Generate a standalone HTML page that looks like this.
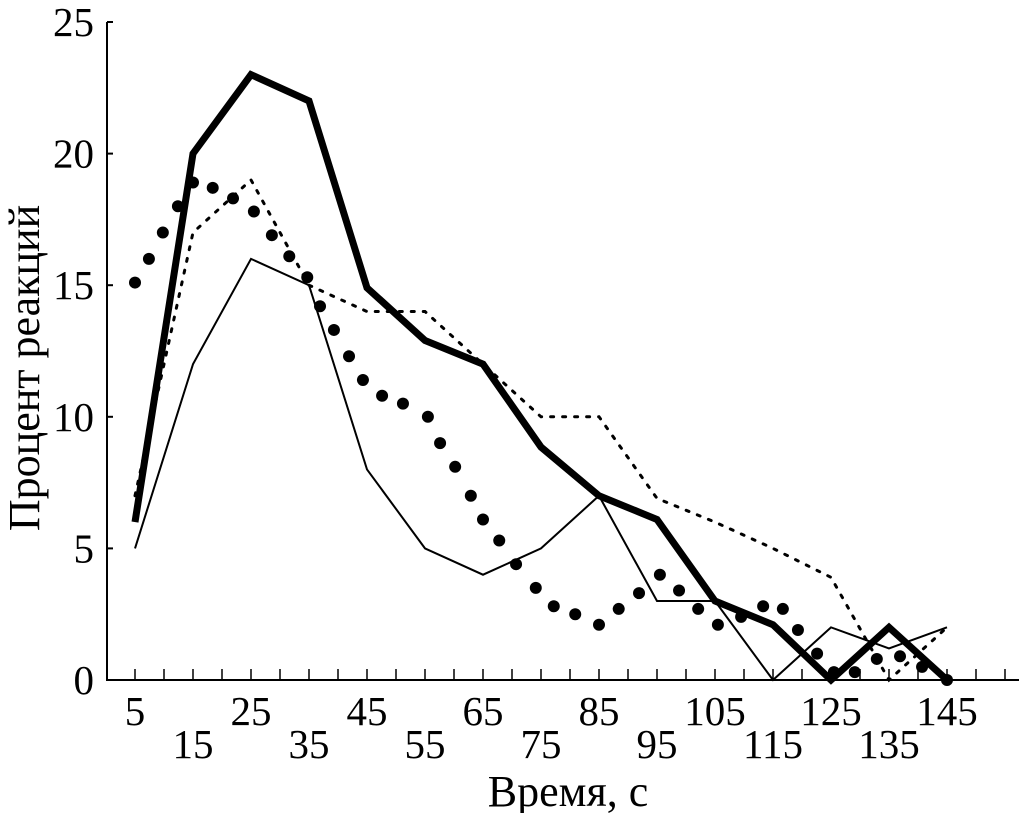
<!DOCTYPE html>
<html><head><meta charset="utf-8"><style>
html,body{margin:0;padding:0;background:#fff;}
svg{display:block;}
text{font-family:"Liberation Serif",serif;fill:#000;}
</style></head><body>
<svg id="chart" width="1019" height="813" viewBox="0 0 1019 813" xmlns="http://www.w3.org/2000/svg">
<g id="axes"></g>
<g id="series"></g>
<text x="568" y="806" font-size="44" text-anchor="middle">Время, с</text>
<text transform="translate(39,368) rotate(-90)" font-size="44" text-anchor="middle">Процент реакций</text>
</svg>
<script>
const categories = [5,15,25,35,45,55,65,75,85,95,105,115,125,135,145];
const thickValues = [6,20,23,22,14.9,12.9,12,8.85,7,6.1,3,2.1,0,2,0];
const thinValues = [5,12,16,15,8,5,4,5,7,3,3,0,2,1.2,2];
const dashValues = [7,17,19,15,14,14,12,10,10,6.9,6,5,3.9,0,2];
const dotTimes = [5,7.4,9.8,12.4,15,18.4,21.9,25.5,28.6,31.6,34.7,36.9,39.3,41.9,44.3,47.6,51.2,55.5,57.6,60.2,62.9,65,67.8,70.7,74.1,77.2,80.9,85,88.4,91.9,95.5,98.8,102.1,105.5,109.5,113.3,116.7,119.3,122.6,125.5,129.1,132.9,136.9,140.7,145];
const dotValues = [15.1,16,17,18,18.9,18.7,18.3,17.8,16.9,16.1,15.3,14.2,13.3,12.3,11.4,10.8,10.5,10,9,8.1,7,6.1,5.3,4.4,3.5,2.8,2.5,2.1,2.7,3.3,4,3.4,2.7,2.1,2.4,2.8,2.7,1.9,1,0.3,0.3,0.8,0.9,0.5,0];
const yTicks = [0,5,10,15,20,25];

const NS="http://www.w3.org/2000/svg";
const x0=135, pxPerSec=5.8, yBase=680, pxPerUnit=26.32;
const xs=t=>x0+(t-5)*pxPerSec;
const ys=v=>yBase-v*pxPerUnit;
function mk(tag,attrs,parent){const e=document.createElementNS(NS,tag);for(const k in attrs)e.setAttribute(k,attrs[k]);parent.appendChild(e);return e;}
const axes=document.getElementById('axes');
const series=document.getElementById('series');

let a=mk('line',{x1:107,y1:ys(25),x2:107,y2:yBase,stroke:'#000','stroke-width':2},axes);


a=mk('line',{x1:106,y1:yBase,x2:1019,y2:yBase,stroke:'#000','stroke-width':2},axes);



yTicks.forEach(v=>{
  const t=mk('line',{x1:107,y1:ys(v),x2:113,y2:ys(v),stroke:'#000','stroke-width':2},axes);
  
  
  const l=mk('text',{x:94,y:ys(v)+14,'font-size':41,'text-anchor':'end'},axes);
  l.textContent=v;
  
  
});
for(let t=5;t<=155;t+=5){
  const tk=mk('line',{x1:xs(t),y1:yBase,x2:xs(t),y2:yBase-11,stroke:'#000','stroke-width':1.5},axes);
  
  
}
categories.forEach((c,i)=>{
  const l=mk('text',{x:xs(c),y:i%2===0?725:758,'font-size':41,'text-anchor':'middle'},axes);
  l.textContent=c;
  
  
});

function pts(tt,vv){return tt.map((t,i)=>xs(t)+','+ys(vv[i])).join(' ');}
let p=mk('polyline',{points:pts(categories,dashValues),fill:'none',stroke:'#000','stroke-width':3,'stroke-dasharray':'3 9','stroke-linecap':'round'},series);


p=mk('polyline',{points:pts(categories,thinValues),fill:'none',stroke:'#000','stroke-width':2},series);


p=mk('polyline',{points:pts(categories,thickValues),fill:'none',stroke:'#000','stroke-width':7,'stroke-linejoin':'miter'},series);


dotTimes.forEach((t,i)=>{
  const d=mk('circle',{cx:xs(t),cy:ys(dotValues[i]),r:6,fill:'#000'},series);
  
  
});
</script>
</body></html>
